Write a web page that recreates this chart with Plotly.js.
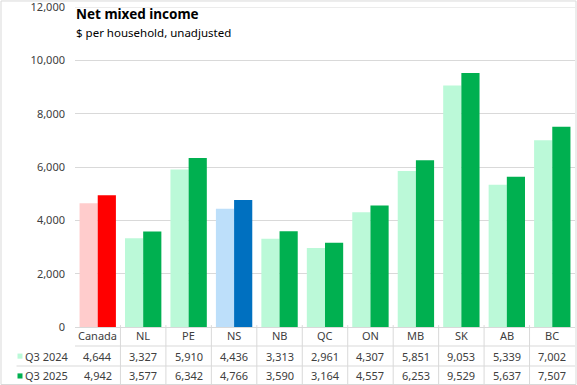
<!DOCTYPE html>
<html>
<head>
<meta charset="utf-8">
<script src="https://cdn.plot.ly/plotly-3.0.1.min.js"></script>
<style>html,body{margin:0;padding:0;background:#fff;}#chart{width:577px;height:385px;}</style>
</head>
<body>
<div id="chart"></div>
<script>
const categories = ["Canada","NL","PE","NS","NB","QC","ON","MB","SK","AB","BC"];
const seriesNames = ["Q3 2024","Q3 2025"];
const q3_2024 = [4644,3327,5910,4436,3313,2961,4307,5851,9053,5339,7002];
const q3_2025 = [4942,3577,6342,4766,3590,3164,4557,6253,9529,5637,7507];
const yTicks = [0,2000,4000,6000,8000,10000,12000];

const lightColors = categories.map(c => c==="Canada" ? "#FFCCCC" : (c==="NS" ? "#BDDFFA" : "#BBF9D8"));
const darkColors  = categories.map(c => c==="Canada" ? "#FF0000" : (c==="NS" ? "#0070C0" : "#00B050"));
const legendColors = ["#BBF9D8","#00B050"];

const fontFam = "Noto Sans, Open Sans, sans-serif";
const txtColor = "#404040";
const lineColor = "#D9D9D9";

const traces = [
  {type:"bar", x:categories.map((c,i)=>i), y:q3_2024, name:seriesNames[0], marker:{color:lightColors}, hoverinfo:"none"},
  {type:"bar", x:categories.map((c,i)=>i), y:q3_2025, name:seriesNames[1], marker:{color:darkColors}, hoverinfo:"none"}
];

const rowLabelY = -0.025, row1Y = -0.091, row2Y = -0.153;
const lineYs = [-0.0594, -0.1219, -0.1797];
const fmt = v => v.toLocaleString("en-US");

const annotations = [];
const shapes = [];
categories.forEach((c,i)=>{
  annotations.push({x:i, y:rowLabelY, xref:"x", yref:"paper", text:c, showarrow:false, font:{family:fontFam,size:11,color:txtColor}, xanchor:"center", yanchor:"middle"});
  annotations.push({x:i, y:row1Y, xref:"x", yref:"paper", text:fmt(q3_2024[i]), showarrow:false, font:{family:fontFam,size:11,color:txtColor}, xanchor:"center", yanchor:"middle"});
  annotations.push({x:i, y:row2Y, xref:"x", yref:"paper", text:fmt(q3_2025[i]), showarrow:false, font:{family:fontFam,size:11,color:txtColor}, xanchor:"center", yanchor:"middle"});
  if (i < categories.length-1) {
    shapes.push({type:"line", xref:"x", yref:"paper", x0:i+0.5, x1:i+0.5, y0:0.006, y1:lineYs[2], line:{color:lineColor,width:1}});
  }
});
[row1Y,row2Y].forEach((y,k)=>{
  annotations.push({x:-0.105, y:y, xref:"paper", yref:"paper", text:seriesNames[k], showarrow:false, font:{family:fontFam,size:11,color:txtColor}, xanchor:"left", yanchor:"middle"});
  shapes.push({type:"rect", xref:"paper", yref:"paper", x0:-0.115, x1:-0.105, y0:y-0.008, y1:y+0.008, fillcolor:legendColors[k], line:{width:0}});
});
shapes.push({type:"line", xref:"paper", yref:"paper", x0:0, x1:1, y0:lineYs[0], y1:lineYs[0], line:{color:lineColor,width:1}});
shapes.push({type:"line", xref:"paper", yref:"paper", x0:-0.117, x1:1, y0:lineYs[1], y1:lineYs[1], line:{color:lineColor,width:1}});
shapes.push({type:"line", xref:"paper", yref:"paper", x0:-0.117, x1:1, y0:lineYs[2], y1:lineYs[2], line:{color:lineColor,width:1}});
shapes.push({type:"line", xref:"paper", yref:"y", x0:0, x1:1, y0:yTicks[yTicks.length-1], y1:yTicks[yTicks.length-1], line:{color:lineColor,width:1}, layer:"below"});
shapes.push({type:"rect", xref:"paper", yref:"paper", x0:-0.148, x1:1.002, y0:-0.1797, y1:1.0188, line:{color:lineColor,width:1}, fillcolor:"rgba(0,0,0,0)"});

annotations.push({x:-0.002, y:0.978, xref:"paper", yref:"paper", text:"<b>Net mixed income</b>", showarrow:false, font:{family:"Noto Sans, sans-serif",size:13.5,color:"#000"}, xanchor:"left", yanchor:"middle"});
annotations.push({x:-0.002, y:0.919, xref:"paper", yref:"paper", text:"$ per household, unadjusted", showarrow:false, font:{family:"Noto Sans, sans-serif",size:11.5,color:"#000"}, xanchor:"left", yanchor:"middle"});

const layout = {
  width:577, height:385,
  margin:{l:75, r:2, t:7, b:58},
  paper_bgcolor:"#fff", plot_bgcolor:"#fff",
  showlegend:false,
  barmode:"group", bargap:0.2, bargroupgap:0,
  xaxis:{range:[-0.5,10.5], showticklabels:false, showgrid:false, zeroline:false, showline:false, ticks:"", fixedrange:true},
  yaxis:{range:[0,12000], tickvals:yTicks, ticktext:yTicks.map(fmt), showgrid:true, gridcolor:lineColor, gridwidth:1, zeroline:true, zerolinecolor:lineColor, zerolinewidth:1, showline:false, ticks:"", ticklabelstandoff:9, ticklabeloverflow:"allow", tickfont:{family:fontFam,size:11,color:txtColor}, fixedrange:true},
  annotations:annotations,
  shapes:shapes
};
Plotly.newPlot("chart", traces, layout, {displayModeBar:false, staticPlot:true});
</script>
</body>
</html>
